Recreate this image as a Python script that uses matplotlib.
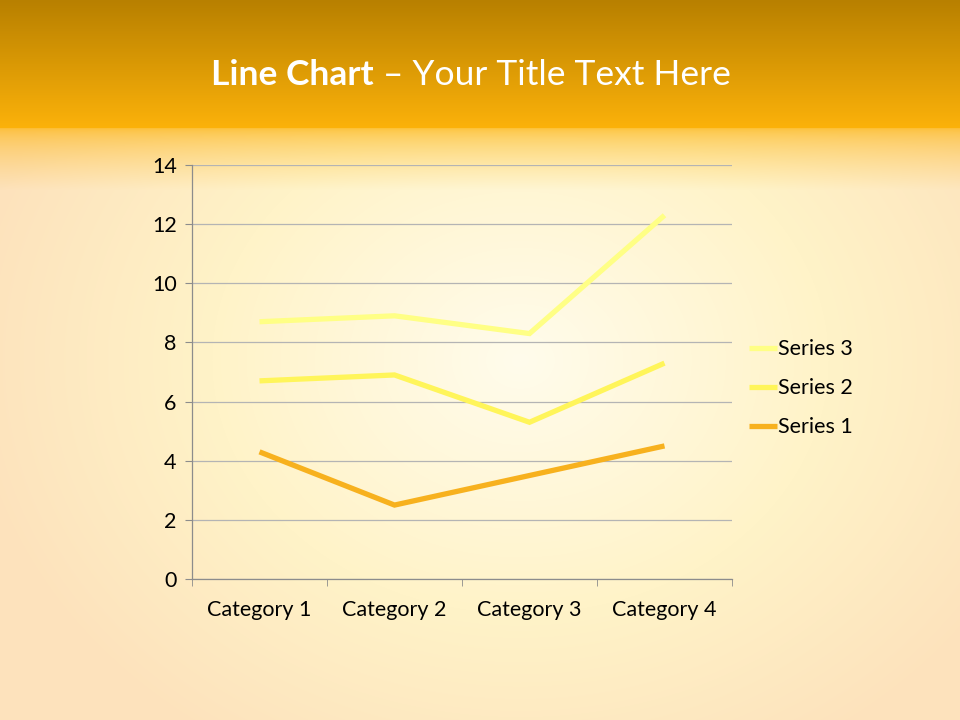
import matplotlib.pyplot as plt
import numpy as np

# data (stacked line chart)
categories = ["Category 1", "Category 2", "Category 3", "Category 4"]
series1 = [4.3, 2.5, 3.5, 4.5]
series2 = [2.4, 4.4, 1.8, 2.8]
series3 = [2.0, 2.0, 3.0, 5.0]
yticks = [0, 2, 4, 6, 8, 10, 12, 14]

s1 = np.array(series1)
s2 = s1 + np.array(series2)
s3 = s2 + np.array(series3)

fig = plt.figure(figsize=(9.6, 7.2), dpi=100)

# background
H, W = 720, 960
yy, xx = np.mgrid[0:H, 0:W]
img = np.zeros((H, W, 3))
# lower area: radial glow
d = np.sqrt(((xx - 520) / 560.0) ** 2 + ((yy - 360) / 460.0) ** 2)
d = np.clip(d, 0, 1)
centre = np.array([255, 252, 236]) / 255
mid = np.array([255, 243, 200]) / 255
edge = np.array([253, 226, 188]) / 255
for c in range(3):
    a = centre[c] + (mid[c] - centre[c]) * np.clip(d / 0.55, 0, 1)
    b = mid[c] + (edge[c] - mid[c]) * np.clip((d - 0.55) / 0.45, 0, 1)
    img[:, :, c] = np.where(d < 0.55, a, b)
# top band
top_a = np.array([184, 128, 0]) / 255
top_b = np.array([252, 178, 10]) / 255
band = yy < 128
t = yy / 128.0
for c in range(3):
    img[:, :, c] = np.where(band, top_a[c] + (top_b[c] - top_a[c]) * t, img[:, :, c])
# soft transition below band
fade = (yy >= 128) & (yy < 190)
tf = np.clip((yy - 128) / 62.0, 0, 1) ** 0.6
w = 0.75 * (1 - tf)
for c in range(3):
    img[:, :, c] = np.where(fade, top_b[c] * w + img[:, :, c] * (1 - w), img[:, :, c])
bg = fig.add_axes([0, 0, 1, 1])
bg.imshow(img, aspect="auto", extent=[0, 1, 0, 1])
bg.axis("off")

# title: bold part then regular part, placed one after the other
ty = 1 - 75 / 720
t1 = fig.text(211 / 960, ty, "Line Chart", ha="left", va="center", color="white",
              fontsize=25.5, fontweight="bold", family="Lato")
r = fig.canvas.get_renderer()
bb = t1.get_window_extent(renderer=r)
fig.text(bb.x1 / 960, ty, " \u2013 Your Title Text Here", ha="left", va="center",
         color="white", fontsize=25.5, family="Lato")

ax = fig.add_axes([192 / 960, 141 / 720, 540 / 960, 414 / 720])
ax.patch.set_alpha(0)
x = np.arange(len(categories))
kw = dict(lw=3.8, solid_capstyle="butt", solid_joinstyle="miter", zorder=3)
ax.plot(x, s3, color="#FFFF85", label="Series 3", **kw)
ax.plot(x, s2, color="#FFF55A", label="Series 2", **kw)
ax.plot(x, s1, color="#F7B11E", label="Series 1", **kw)

ax.set_xlim(-0.5, 3.5)
ax.set_ylim(0, 14)
ax.set_yticks(yticks)
ax.set_xticks(x)
ax.set_xticklabels(categories)
ax.set_xticks([-0.5, 0.5, 1.5, 2.5, 3.5], minor=True)
ax.grid(axis="y", color="#B4B4B4", lw=0.9)
ax.set_axisbelow(True)
for s in ["top", "right"]:
    ax.spines[s].set_visible(False)
for s in ["left", "bottom"]:
    ax.spines[s].set_color("#8C8C8C")
    ax.spines[s].set_linewidth(0.9)
ax.tick_params(axis="y", length=5, color="#8C8C8C", labelsize=15.5, pad=6)
ax.tick_params(axis="x", which="major", length=0, labelsize=15.5, pad=15)
ax.tick_params(axis="x", which="minor", length=5, color="#8C8C8C")
for lab in ax.get_xticklabels() + ax.get_yticklabels():
    lab.set_family("Lato")
    lab.set_color("black")

leg = ax.legend(loc="center left", bbox_to_anchor=(0.995, 0.461), frameon=False,
                prop={"family": "Lato", "size": 15.5}, handlelength=1.3,
                handletextpad=0.05, labelspacing=0.88)

fig.savefig("out.png", dpi=100)
